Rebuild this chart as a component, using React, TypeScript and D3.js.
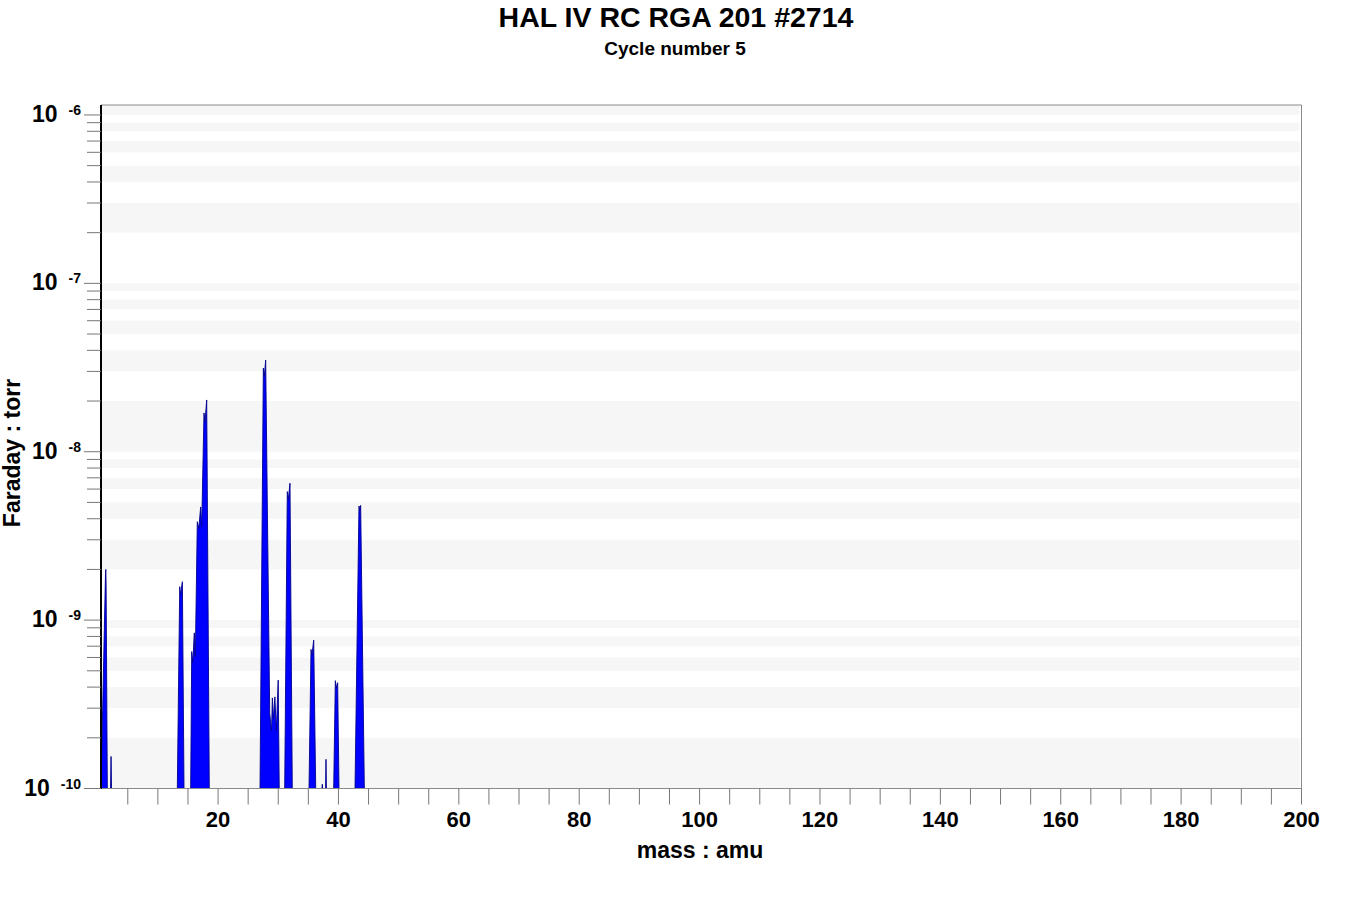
import React from 'react';
import * as d3 from 'd3';

// ---- text ----
const chartTitle = 'HAL IV RC RGA 201 #2714';
const chartSubtitle = 'Cycle number 5';
const xAxisTitle = 'mass : amu';
const yAxisTitle = 'Faraday : torr';

// ---- axes ----
const massDomain: [number, number] = [0.55, 200];
const torrDomain: [number, number] = [1e-10, 1.146e-6];
const xTickMarks = [5, 10, 15, 20, 25, 30, 35, 40, 45, 50, 55, 60, 65, 70, 75, 80, 85, 90, 95, 100,
  105, 110, 115, 120, 125, 130, 135, 140, 145, 150, 155, 160, 165, 170, 175, 180, 185, 190, 195, 200];
const xTickLabels = [20, 40, 60, 80, 100, 120, 140, 160, 180, 200];
const yDecadeExponents = [-10, -9, -8, -7, -6];
const yMinorMultipliers = [2, 3, 4, 5, 6, 7, 8, 9];

// ---- spectrum peaks: [mass (amu), pressure (torr)] ----
const floorTorr = 1e-10;
const peakH: [number, number][] = [[0.55, 1e-10], [1.30, 1.9e-9], [1.35, 2.0e-9], [1.40, 1.6e-9], [1.60, 1e-10]];
const peakH2: [number, number][] = [[2.14, 1e-10], [2.22, 1.55e-10], [2.30, 1e-10]];
const peakN: [number, number][] = [[13.23, 1e-10], [13.63, 1.58e-9], [13.76, 1.42e-9], [14.07, 1.69e-9], [14.34, 1e-10]];
const peakWater: [number, number][] = [
  [15.45, 1e-10], [15.62, 6.5e-10], [15.80, 5.6e-10], [16.05, 8.4e-10], [16.22, 6.1e-10],
  [16.55, 3.84e-9], [16.80, 3.5e-9], [17.11, 4.7e-9], [17.28, 3.6e-9], [17.66, 1.7e-8],
  [17.83, 1.5e-8], [18.11, 2.03e-8], [18.54, 1e-10],
];
const peakN2CO: [number, number][] = [
  [26.97, 1e-10], [27.52, 3.14e-8], [27.68, 2.8e-8], [27.91, 3.5e-8], [28.58, 2.8e-10],
  [28.88, 2.2e-10], [29.02, 3.45e-10], [29.20, 2.6e-10], [29.44, 3.5e-10], [29.68, 2.2e-10],
  [29.99, 4.4e-10], [30.16, 1e-10],
];
const peakO2: [number, number][] = [[31.07, 1e-10], [31.50, 5.8e-9], [31.67, 5.2e-9], [31.95, 6.5e-9], [32.33, 1e-10]];
const peakAr36: [number, number][] = [[35.11, 1e-10], [35.44, 6.7e-10], [35.60, 6.2e-10], [35.89, 7.6e-10], [36.22, 1e-10]];
const peak37: [number, number][] = [[37.25, 1e-10], [37.32, 1.06e-10], [37.38, 1e-10]];
const peak38: [number, number][] = [[37.86, 1e-10], [37.93, 1.49e-10], [38.00, 1e-10]];
const peakAr40: [number, number][] = [[39.21, 1e-10], [39.48, 4.37e-10], [39.67, 3.95e-10], [39.87, 4.25e-10], [40.09, 1e-10]];
const peakCO2: [number, number][] = [[42.75, 1e-10], [43.41, 4.76e-9], [43.55, 4.5e-9], [43.69, 4.8e-9], [44.30, 1e-10]];

const spectrumPeaks = [peakH, peakH2, peakN, peakWater, peakN2CO, peakO2, peakAr36, peak37, peak38, peakAr40, peakCO2];

const FONT = '"Liberation Sans", Arial, Helvetica, sans-serif';

export default function App() {
  const W = 1350;
  const H = 900;
  const left = 101;
  const right = 1301.5;
  const top = 105;
  const bottom = 788.5;

  const x = d3.scaleLinear().domain(massDomain).range([left, right]);
  const y = d3.scaleLog().domain(torrDomain).range([bottom, top]);

  // tick values on the log axis
  const tickValues: number[] = [];
  yDecadeExponents.forEach((e) => {
    const base = Math.pow(10, e);
    tickValues.push(base);
    if (e < -6) yMinorMultipliers.forEach((m) => tickValues.push(m * base));
  });
  tickValues.sort((a, b) => a - b);
  const bandEdges = [...tickValues, torrDomain[1]];

  const area = d3
    .area<[number, number]>()
    .x((d) => x(d[0]))
    .y0(y(floorTorr))
    .y1((d) => y(d[1]));

  return (
    <svg
      width={W}
      height={H}
      style={{ position: 'absolute', left: 0, top: 0, display: 'block', background: '#fff' }}
      fontFamily={FONT}
    >
      <rect x={0} y={0} width={W} height={H} fill="#fff" />
      {/* alternating bands */}
      {bandEdges.slice(0, -1).map((v, i) =>
        i % 2 === 0 ? (
          <rect
            key={'b' + i}
            x={left + 1}
            width={right - left - 3}
            y={y(bandEdges[i + 1])}
            height={y(v) - y(bandEdges[i + 1])}
            fill="#f6f6f6"
          />
        ) : null
      )}

      {/* spectrum */}
      {spectrumPeaks.map((p, i) => (
        <path key={'p' + i} d={area(p) || ''} fill="#0000ff" stroke="#00008c" strokeWidth={0.9} strokeLinejoin="round" />
      ))}

      {/* frame */}
      <line x1={left} x2={right} y1={top} y2={top} stroke="#8a8a8a" strokeWidth={1} />
      <line x1={right} x2={right} y1={top} y2={bottom} stroke="#8a8a8a" strokeWidth={1} />
      <line x1={left} x2={right} y1={bottom} y2={bottom} stroke="#8a8a8a" strokeWidth={1} />
      <line x1={left} x2={left} y1={top} y2={bottom + 0.5} stroke="#000" strokeWidth={2} />

      {/* x ticks */}
      {xTickMarks.map((t) => (
        <line key={'xt' + t} x1={x(t)} x2={x(t)} y1={bottom} y2={bottom + 16} stroke="#777" strokeWidth={1} />
      ))}
      {xTickLabels.map((t) => (
        <text key={'xl' + t} x={x(t)} y={827} textAnchor="middle" fontSize={22} fontWeight="bold" fill="#000">
          {t}
        </text>
      ))}

      {/* y ticks */}
      {tickValues.map((v, i) => {
        const major = Math.abs(Math.log10(v) - Math.round(Math.log10(v))) < 1e-9;
        return (
          <line
            key={'yt' + i}
            x1={major ? left - 17 : left - 14}
            x2={left}
            y1={y(v)}
            y2={y(v)}
            stroke="#777"
            strokeWidth={1}
          />
        );
      })}
      {yDecadeExponents.map((e) => (
        <text key={'yl' + e} x={81} y={y(Math.pow(10, e)) + 7} textAnchor="end" fontWeight="bold" fill="#000">
          <tspan fontSize={23}>10</tspan>
          <tspan fontSize={14} dx={11} dy={-7}>
            {String(e)}
          </tspan>
        </text>
      ))}

      {/* titles */}
      <text x={676} y={27} textAnchor="middle" fontSize={28.5} fontWeight="bold" fill="#000">
        {chartTitle}
      </text>
      <text x={675} y={55} textAnchor="middle" fontSize={19} fontWeight="bold" fill="#000">
        {chartSubtitle}
      </text>
      <text x={700} y={858} textAnchor="middle" fontSize={23} fontWeight="bold" fill="#000">
        {xAxisTitle}
      </text>
      <text
        transform={`translate(20, 453) rotate(-90)`}
        textAnchor="middle"
        fontSize={23}
        fontWeight="bold"
        fill="#000"
      >
        {yAxisTitle}
      </text>
    </svg>
  );
}
